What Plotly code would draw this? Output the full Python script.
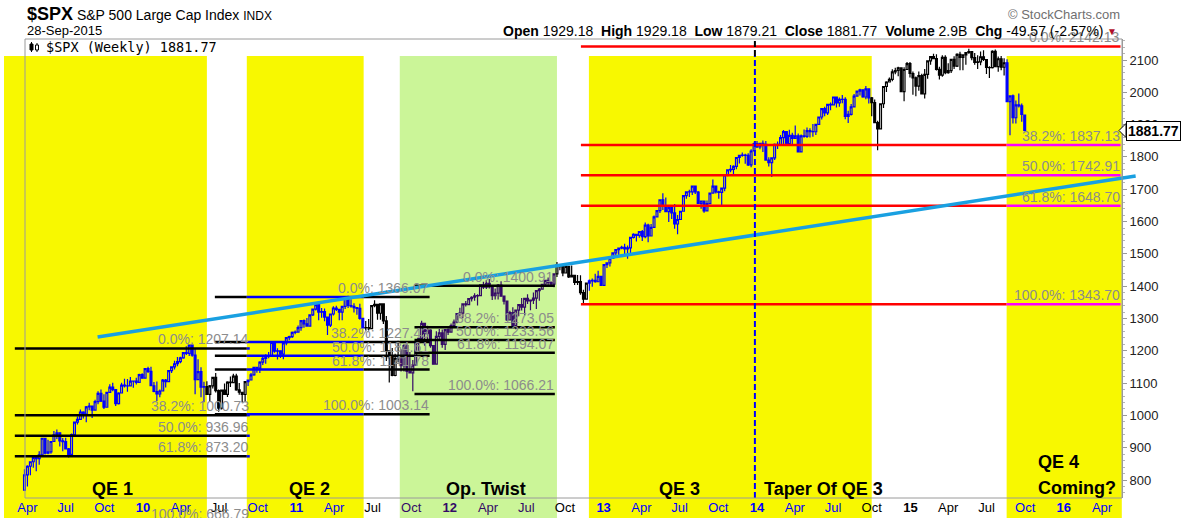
import pandas as pd
import plotly.graph_objects as go

# ---------------- weekly $SPX data (close / high / low) ----------------
close_2009 = [815.94, 842.50, 856.56, 869.60, 866.23, 877.52, 929.23, 882.88, 887.00, 919.14, 940.09, 946.21, 921.23, 918.90, 896.42, 879.13, 940.38, 979.26, 987.48, 1010.48, 1004.09, 1026.13, 1028.93, 1016.40, 1042.73, 1068.30, 1044.38, 1025.21, 1071.49, 1087.68, 1079.60, 1036.19, 1069.30, 1093.48, 1091.38, 1091.49, 1105.98, 1106.41, 1102.47, 1126.48, 1115.10]
high_2009 = [832.98, 845.61, 856.93, 875.63, 871.80, 888.70, 930.17, 922.00, 924.60, 920.02, 951.69, 956.23, 945.83, 930.26, 931.00, 898.72, 943.96, 979.79, 996.68, 1018.00, 1012.60, 1029.43, 1039.47, 1028.00, 1048.18, 1074.77, 1080.15, 1065.59, 1073.00, 1096.56, 1101.36, 1081.38, 1071.30, 1101.00, 1113.69, 1112.38, 1119.13, 1107.84, 1116.21, 1129.23, 1130.38]
low_2009 = [767.00, 779.81, 814.53, 838.22, 826.83, 847.12, 879.21, 878.94, 879.61, 881.46, 919.00, 927.00, 903.78, 888.86, 896.00, 869.32, 875.32, 940.38, 972.00, 987.50, 990.20, 978.51, 1016.20, 991.97, 1016.40, 1034.60, 1041.20, 1019.95, 1025.21, 1071.50, 1075.00, 1029.38, 1033.38, 1069.30, 1086.30, 1073.15, 1091.50, 1085.90, 1095.40, 1102.50, 1114.80]

close_2010 = [1144.98, 1136.03, 1091.76, 1073.87, 1066.19, 1075.51, 1109.17, 1104.49, 1138.70, 1149.99, 1159.90, 1166.59, 1178.10, 1194.37, 1192.13, 1217.28, 1186.69, 1110.88, 1135.68, 1087.69, 1089.41, 1064.88, 1091.60, 1117.51, 1076.76, 1022.58, 1077.96, 1064.88, 1102.66, 1101.60, 1121.64, 1079.25, 1071.69, 1064.59, 1104.51, 1109.55, 1125.59, 1148.67, 1146.24, 1165.15, 1176.19, 1183.08, 1183.26, 1225.85, 1199.21, 1199.73, 1189.40, 1224.71, 1240.40, 1243.91, 1256.77, 1257.64]
high_2010 = [1145.39, 1150.41, 1150.45, 1103.69, 1104.73, 1080.04, 1112.42, 1112.42, 1139.00, 1151.00, 1169.20, 1180.69, 1181.43, 1194.66, 1213.92, 1217.64, 1219.80, 1205.13, 1173.57, 1148.66, 1104.00, 1105.67, 1094.12, 1119.71, 1131.23, 1080.00, 1080.00, 1099.08, 1106.00, 1120.00, 1129.24, 1129.24, 1100.14, 1073.39, 1105.10, 1110.88, 1131.47, 1148.90, 1150.30, 1167.73, 1184.38, 1189.43, 1196.14, 1227.08, 1226.84, 1207.43, 1199.30, 1225.60, 1240.40, 1246.70, 1260.00, 1262.60]
low_2010 = [1115.10, 1131.39, 1090.18, 1071.59, 1044.50, 1056.51, 1075.51, 1086.02, 1104.49, 1131.39, 1141.71, 1152.00, 1161.50, 1175.10, 1186.77, 1183.68, 1181.62, 1065.79, 1110.88, 1055.90, 1040.78, 1064.59, 1042.17, 1083.49, 1070.70, 1010.91, 1018.35, 1063.32, 1056.88, 1088.01, 1101.50, 1076.61, 1064.00, 1039.70, 1040.88, 1091.15, 1108.30, 1122.80, 1131.90, 1131.10, 1155.70, 1159.70, 1177.00, 1181.10, 1194.10, 1173.00, 1177.70, 1173.60, 1216.80, 1232.90, 1239.60, 1251.50]

close_2011 = [1271.50, 1293.24, 1283.35, 1276.34, 1310.87, 1329.15, 1343.01, 1319.88, 1321.15, 1304.28, 1279.21, 1313.80, 1332.41, 1328.17, 1319.68, 1337.38, 1363.61, 1340.20, 1337.77, 1333.27, 1331.10, 1300.16, 1270.98, 1271.50, 1268.45, 1339.67, 1343.80, 1316.14, 1345.02, 1292.28, 1199.38, 1178.81, 1123.53, 1176.80, 1173.97, 1154.23, 1216.01, 1136.43, 1131.42, 1155.46, 1224.58, 1238.25, 1285.09, 1253.23, 1263.85, 1215.65, 1158.67, 1244.28, 1255.19, 1219.66, 1265.33, 1257.60]
high_2011 = [1278.17, 1293.24, 1296.68, 1301.29, 1311.00, 1330.79, 1344.07, 1342.23, 1332.28, 1330.58, 1304.28, 1315.41, 1337.85, 1339.46, 1328.17, 1337.49, 1364.56, 1370.58, 1359.44, 1346.82, 1334.75, 1345.62, 1300.16, 1292.50, 1298.61, 1341.01, 1356.48, 1343.80, 1347.00, 1344.32, 1307.38, 1199.38, 1208.47, 1190.68, 1230.71, 1204.40, 1220.39, 1220.39, 1195.86, 1171.40, 1224.61, 1239.03, 1292.66, 1285.09, 1277.55, 1266.98, 1215.65, 1260.08, 1267.06, 1266.00, 1265.42, 1269.37]
low_2011 = [1257.62, 1262.18, 1271.26, 1275.10, 1276.34, 1307.61, 1324.61, 1294.26, 1302.58, 1291.00, 1249.05, 1273.72, 1309.00, 1322.94, 1294.70, 1294.20, 1329.10, 1332.06, 1333.39, 1318.51, 1311.80, 1296.00, 1268.70, 1262.66, 1262.87, 1268.45, 1334.90, 1295.92, 1295.92, 1282.86, 1168.09, 1101.54, 1121.09, 1121.09, 1163.63, 1136.07, 1136.22, 1114.22, 1131.07, 1074.77, 1155.46, 1191.48, 1234.59, 1215.42, 1226.64, 1209.43, 1158.66, 1158.66, 1231.47, 1209.47, 1202.37, 1248.64]

close_2012 = [1277.81, 1289.09, 1315.38, 1316.33, 1344.90, 1342.64, 1361.23, 1365.74, 1369.63, 1370.87, 1404.17, 1397.11, 1408.47, 1398.08, 1370.26, 1378.53, 1403.36, 1369.10, 1353.39, 1295.22, 1317.82, 1278.04, 1325.66, 1342.84, 1335.02, 1362.16, 1354.68, 1356.78, 1362.66, 1385.97, 1390.99, 1405.87, 1418.16, 1411.13, 1406.58, 1437.92, 1465.77, 1460.15, 1440.67, 1460.93, 1428.59, 1433.19, 1411.94, 1414.20, 1379.85, 1359.88, 1409.15, 1416.18, 1418.07, 1413.58, 1430.15, 1402.43]
high_2012 = [1284.62, 1296.82, 1315.49, 1333.47, 1345.34, 1354.32, 1362.59, 1368.92, 1378.04, 1374.61, 1405.88, 1414.00, 1419.15, 1422.38, 1397.96, 1392.76, 1406.64, 1415.32, 1369.10, 1355.42, 1324.20, 1334.93, 1325.81, 1343.32, 1363.53, 1362.17, 1374.81, 1357.00, 1380.39, 1387.16, 1394.16, 1405.98, 1418.71, 1426.68, 1413.49, 1437.92, 1474.51, 1465.63, 1460.15, 1470.96, 1460.93, 1464.02, 1433.74, 1434.27, 1433.38, 1388.81, 1409.16, 1420.34, 1424.00, 1438.59, 1448.00, 1430.15]
low_2012 = [1258.09, 1274.65, 1284.99, 1306.06, 1300.49, 1337.05, 1340.83, 1352.28, 1354.92, 1340.03, 1370.10, 1391.56, 1391.56, 1392.77, 1357.38, 1358.79, 1358.79, 1367.96, 1343.13, 1291.98, 1295.22, 1277.25, 1266.74, 1306.62, 1324.41, 1309.27, 1345.07, 1325.41, 1345.07, 1329.24, 1354.65, 1390.99, 1397.32, 1398.04, 1397.01, 1396.56, 1428.00, 1449.57, 1430.53, 1440.67, 1425.53, 1428.59, 1403.28, 1403.28, 1373.03, 1343.35, 1359.88, 1385.43, 1398.23, 1410.90, 1413.54, 1401.58]

close_2013 = [1466.47, 1472.05, 1485.98, 1502.96, 1513.17, 1517.93, 1519.79, 1515.60, 1518.20, 1551.18, 1560.70, 1556.89, 1569.19, 1553.28, 1588.85, 1555.25, 1582.24, 1614.42, 1633.70, 1667.47, 1649.60, 1630.74, 1643.38, 1626.73, 1592.43, 1606.28, 1631.89, 1680.19, 1692.09, 1691.65, 1709.67, 1691.42, 1655.83, 1663.50, 1632.97, 1655.17, 1687.99, 1709.91, 1691.75, 1690.50, 1703.20, 1744.50, 1759.77, 1761.64, 1770.61, 1798.18, 1804.76, 1805.81, 1805.09, 1775.32, 1818.32, 1841.40]
high_2013 = [1467.94, 1472.30, 1485.98, 1503.26, 1514.41, 1518.31, 1524.69, 1530.94, 1525.84, 1552.48, 1563.62, 1557.74, 1570.28, 1573.66, 1597.35, 1593.37, 1592.64, 1618.46, 1635.01, 1667.47, 1687.18, 1674.21, 1646.50, 1648.69, 1654.19, 1620.07, 1632.07, 1680.19, 1693.12, 1698.78, 1709.67, 1709.24, 1694.86, 1664.85, 1664.85, 1664.83, 1689.97, 1729.86, 1711.20, 1695.00, 1703.44, 1745.31, 1759.82, 1775.22, 1774.54, 1798.22, 1804.84, 1813.55, 1810.00, 1811.52, 1823.75, 1844.89]
low_2013 = [1402.43, 1456.06, 1461.00, 1485.98, 1496.33, 1495.00, 1514.10, 1497.29, 1485.01, 1501.48, 1547.36, 1538.57, 1549.63, 1539.50, 1548.63, 1536.03, 1555.25, 1581.28, 1614.42, 1626.74, 1635.53, 1630.74, 1598.23, 1608.07, 1577.70, 1560.33, 1606.28, 1631.89, 1670.91, 1676.03, 1681.87, 1684.91, 1654.19, 1639.43, 1627.47, 1633.41, 1655.17, 1688.00, 1687.11, 1670.36, 1646.47, 1694.00, 1740.50, 1752.70, 1746.20, 1761.56, 1780.00, 1800.21, 1779.09, 1772.28, 1767.99, 1820.40]

close_2014 = [1831.37, 1842.37, 1838.70, 1790.29, 1782.59, 1797.02, 1838.63, 1836.25, 1859.45, 1878.04, 1841.13, 1866.52, 1857.62, 1865.09, 1815.69, 1864.85, 1863.40, 1881.14, 1878.48, 1877.86, 1900.53, 1923.57, 1949.44, 1936.16, 1962.87, 1960.96, 1985.44, 1967.57, 1978.22, 1978.34, 1925.15, 1931.59, 1955.06, 1988.40, 2003.37, 2007.71, 1985.54, 2010.40, 1982.85, 1967.90, 1906.13, 1886.76, 1964.58, 2018.05, 2031.92, 2039.82, 2063.50, 2067.56, 2075.37, 2002.33, 2070.65, 2088.77]
high_2014 = [1849.44, 1843.23, 1850.84, 1849.31, 1798.77, 1798.03, 1841.65, 1847.50, 1867.92, 1883.57, 1878.26, 1883.97, 1875.18, 1897.28, 1872.53, 1869.63, 1884.89, 1891.33, 1889.07, 1902.17, 1901.26, 1924.03, 1949.44, 1955.55, 1963.91, 1968.17, 1985.59, 1985.59, 1983.94, 1991.39, 1984.85, 1942.92, 1964.04, 1994.76, 2005.04, 2011.17, 2007.71, 2019.26, 2010.26, 1985.17, 1977.37, 1912.31, 1965.27, 2018.19, 2034.26, 2046.18, 2071.46, 2075.76, 2079.47, 2075.78, 2077.85, 2093.55]
low_2014 = [1827.74, 1823.73, 1815.52, 1790.00, 1770.45, 1737.92, 1790.79, 1824.58, 1836.78, 1834.44, 1839.57, 1841.13, 1839.57, 1858.98, 1814.36, 1815.80, 1859.70, 1858.49, 1859.79, 1862.36, 1868.14, 1900.30, 1915.98, 1925.78, 1930.11, 1944.69, 1959.22, 1952.86, 1955.59, 1965.77, 1916.37, 1904.78, 1928.29, 1955.23, 1988.57, 1990.10, 1983.53, 1978.63, 1965.00, 1926.03, 1906.05, 1820.66, 1886.76, 1951.37, 2001.01, 2030.17, 2034.46, 2055.60, 2049.57, 2002.33, 1972.56, 2069.28]

close_2015 = [2058.20, 2044.81, 2019.42, 2051.82, 1994.99, 2055.47, 2096.99, 2110.30, 2104.50, 2071.26, 2053.40, 2108.10, 2061.02, 2066.96, 2102.06, 2081.18, 2117.69, 2108.29, 2116.10, 2122.73, 2126.06, 2107.39, 2092.83, 2094.11, 2109.99, 2101.49, 2076.78, 2076.62, 2126.64, 2079.65, 2103.84, 2077.57, 2091.54, 1970.89, 1988.87, 1921.22, 1961.05, 1958.08, 1931.34, 1881.77]
high_2015 = [2093.55, 2064.43, 2049.30, 2064.62, 2057.62, 2072.40, 2097.03, 2110.61, 2119.59, 2117.52, 2079.47, 2114.86, 2114.86, 2089.81, 2102.61, 2111.91, 2120.92, 2125.92, 2117.66, 2123.89, 2134.72, 2126.22, 2121.92, 2115.02, 2126.65, 2129.87, 2102.61, 2081.04, 2129.90, 2132.82, 2110.60, 2112.66, 2105.35, 2102.48, 1989.60, 1993.48, 1975.01, 1996.49, 1965.61, 1929.18]
low_2015 = [2046.04, 1992.44, 1988.12, 2004.49, 1994.81, 1980.90, 2041.88, 2085.44, 2103.13, 2067.27, 2039.69, 2048.38, 2055.53, 2057.64, 2059.99, 2072.21, 2078.35, 2067.93, 2067.93, 2085.67, 2119.15, 2099.18, 2085.67, 2072.14, 2083.98, 2097.02, 2056.32, 2044.02, 2073.31, 2077.60, 2063.52, 2067.91, 2052.09, 1970.89, 1867.01, 1903.07, 1903.07, 1953.00, 1908.77, 1879.21]

first_open = 768.54          # open of the first weekly bar
last_open = 1929.18          # open of the current (28-Sep-2015) bar
first_week = "2009-03-25"    # mid-week date of first bar
volume_text = "2.9B"
chart_date = "28-Sep-2015"

# ---------------- shaded programme periods ----------------
band_start = ["2009-02-04", "2010-09-05", "2011-09-04", "2012-11-27", "2015-08-18"]
band_end = ["2010-06-02", "2011-06-10", "2012-09-12", "2014-10-01", "2016-05-18"]
band_kind = ["yellow", "yellow", "green", "yellow", "yellow"]

# ---------------- Fibonacci retracement sets ----------------
fib_pcts = ["0.0%", "38.2%", "50.0%", "61.8%", "100.0%"]
fib1_levels = [1207.14, 1000.73, 936.96, 873.20, 666.79]
fib1_span = ["2009-03-02", "2010-09-12"]
fib2_levels = [1366.07, 1227.43, 1184.61, 1141.78, 1003.14]
fib2_span = ["2010-06-21", "2011-11-14"]
fib3_levels = [1400.91, 1273.05, 1233.56, 1194.07, 1066.21]
fib3_span = ["2011-10-09", "2012-09-07"]
fib4_levels = [2142.13, 1837.13, 1742.91, 1648.70, 1343.70]
fib4_span = ["2012-11-08", "2016-05-15"]

# ---------------- trend line & taper marker ----------------
trend_dates = ["2009-09-15", "2016-06-20"]
trend_values = [1242.6, 1741.0]
taper_date = "2013-12-27"

# ---------------- text labels ----------------
period_labels = ["QE 1", "QE 2", "Op. Twist", "QE 3"]
period_label_dates = ["2009-10-21", "2011-02-02", "2012-03-26", "2013-07-01"]
taper_label = "Taper Of QE 3"
taper_label_date = "2014-01-12"
qe4_labels = ["QE 4", "Coming?"]
qe4_label_date = "2015-10-26"

y_ticks = [800, 900, 1000, 1100, 1200, 1300, 1400, 1500, 1600, 1700, 1800, 1900, 2000, 2100]
month_abbr = {1: "", 4: "Apr", 7: "Jul", 10: "Oct"}

# ---------------- styles ----------------
ARIAL = "Arial, Liberation Sans, Helvetica, sans-serif"
YELLOW = "#F8F800"
GREEN = "#CBF598"
BLUE = "#0000FF"
PURPLE = "#340A67"
BLACK = "#000000"
RED = "#FF0000"
MAGENTA = "#FF00FF"
TREND = "#19A0E1"
LABEL_GRAY = "#8C8C8C"
FRAME = "#9A9A9A"

W, H = 1183, 518
PL, PR, PT, PB = 4, 1140, 39, 498          # plot-area pixel box
Y_AXIS_PX = 1122
FRAME_LEFT_PX = 25
Y_RANGE = [744.3, 2165.0]
REF_DATE = pd.Timestamp("2010-01-01")
REF_PX = 143.0
PX_PER_DAY = 153.5 / 365.25


def px_x(px):
    return (px - PL) / (PR - PL)


def px_y(py):
    return (PB - py) / (PB - PT)


def val_to_paper_y(v):
    return (v - Y_RANGE[0]) / (Y_RANGE[1] - Y_RANGE[0])


x_range = [REF_DATE + pd.Timedelta(days=(PL - REF_PX) / PX_PER_DAY),
           REF_DATE + pd.Timedelta(days=(PR - REF_PX) / PX_PER_DAY)]

# ---------------- assemble series ----------------
close = close_2009 + close_2010 + close_2011 + close_2012 + close_2013 + close_2014 + close_2015
high = high_2009 + high_2010 + high_2011 + high_2012 + high_2013 + high_2014 + high_2015
low = low_2009 + low_2010 + low_2011 + low_2012 + low_2013 + low_2014 + low_2015
opens = [first_open] + close[:-1]
opens[-1] = last_open
dates = list(pd.date_range(first_week, periods=len(close), freq="W-WED"))

bands = [(pd.Timestamp(s), pd.Timestamp(e), k) for s, e, k in zip(band_start, band_end, band_kind)]


def region_of(d):
    for s, e, k in bands:
        if s <= d < e:
            return k
    return "white"


def bar_color(d):
    return {"yellow": BLUE, "green": PURPLE, "white": BLACK}[region_of(d)]


bar_cols = [bar_color(d) for d in dates]

fig = go.Figure()
for col in [BLACK, BLUE, PURPLE]:
    idx = [i for i, c in enumerate(bar_cols) if c == col]
    fig.add_trace(go.Candlestick(
        x=[dates[i] for i in idx],
        open=[opens[i] for i in idx], high=[high[i] for i in idx],
        low=[low[i] for i in idx], close=[close[i] for i in idx],
        increasing=dict(line=dict(color=col, width=1.2), fillcolor="rgba(0,0,0,0)"),
        decreasing=dict(line=dict(color=col, width=1.2), fillcolor=col),
        whiskerwidth=0, hoverinfo="skip", showlegend=False))

shapes = []
# shaded bands (extend from below the axis labels up to near the top)
for s, e, k in bands:
    shapes.append(dict(type="rect", xref="x", yref="paper", x0=s, x1=e,
                       y0=px_y(H), y1=px_y(56), fillcolor=YELLOW if k == "yellow" else GREEN,
                       line=dict(width=0), layer="below"))


def split_span(t0, t1, recolor_bands):
    t0, t1 = pd.Timestamp(t0), pd.Timestamp(t1)
    cuts = {t0, t1}
    for s, e in recolor_bands:
        for b in (s, e):
            if t0 < b < t1:
                cuts.add(b)
    cuts = sorted(cuts)
    out = []
    for a, b in zip(cuts[:-1], cuts[1:]):
        mid = a + (b - a) / 2
        out.append((a, b, any(s <= mid <= e for s, e in recolor_bands)))
    return out


def fib_lines(levels, span, base_col, alt_col, recolor_bands, skip_recolor_first=False):
    for j, lv in enumerate(levels):
        if not (Y_RANGE[0] <= lv <= Y_RANGE[1]):
            continue
        rb = [] if (skip_recolor_first and j == 0) else recolor_bands
        for a, b, inside in split_span(span[0], span[1], rb):
            shapes.append(dict(type="line", xref="x", yref="y", x0=a, x1=b, y0=lv, y1=lv,
                               line=dict(color=alt_col if inside else base_col, width=2.5),
                               layer="above"))


qe2 = (bands[1][0], bands[1][1])
qe4 = (bands[4][0], bands[4][1])
fib_lines(fib1_levels, fib1_span, BLACK, BLUE, [qe2])
fib_lines(fib2_levels, fib2_span, BLACK, BLUE, [qe2])
fib_lines(fib3_levels, fib3_span, BLACK, BLUE, [])
fib_lines(fib4_levels, fib4_span, RED, MAGENTA, [qe4], skip_recolor_first=True)

# trend line
shapes.append(dict(type="line", xref="x", yref="y", x0=trend_dates[0], x1=trend_dates[1],
                   y0=trend_values[0], y1=trend_values[1], line=dict(color=TREND, width=3.5),
                   layer="above"))
# taper marker (black above the band, blue inside it)
shapes.append(dict(type="line", xref="x", yref="paper", x0=taper_date, x1=taper_date,
                   y0=px_y(56), y1=1.0, line=dict(color=BLACK, width=2, dash="6px,3px"), layer="above"))
shapes.append(dict(type="line", xref="x", yref="paper", x0=taper_date, x1=taper_date,
                   y0=0.0, y1=px_y(56), line=dict(color=BLUE, width=2, dash="6px,3px"), layer="above"))

# plot frame
shapes.append(dict(type="rect", xref="paper", yref="paper", x0=px_x(FRAME_LEFT_PX), x1=px_x(Y_AXIS_PX),
                   y0=0, y1=1, line=dict(color=FRAME, width=1), fillcolor="rgba(0,0,0,0)", layer="above"))

# small candlestick icon in the legend box
shapes.append(dict(type="line", xref="paper", yref="paper", x0=px_x(31.5), x1=px_x(31.5),
                   y0=px_y(52), y1=px_y(42), line=dict(color=BLACK, width=1)))
shapes.append(dict(type="rect", xref="paper", yref="paper", x0=px_x(30), x1=px_x(33),
                   y0=px_y(50), y1=px_y(44), line=dict(color=BLACK, width=1), fillcolor=BLACK))
shapes.append(dict(type="line", xref="paper", yref="paper", x0=px_x(37), x1=px_x(37),
                   y0=px_y(52), y1=px_y(43), line=dict(color=BLACK, width=1)))
shapes.append(dict(type="rect", xref="paper", yref="paper", x0=px_x(35.5), x1=px_x(38.5),
                   y0=px_y(50), y1=px_y(45), line=dict(color=BLACK, width=1), fillcolor="white"))

# price pointer at the right axis
last_close = close[-1]
ptr_h = 7 / ((PB - PT) / (Y_RANGE[1] - Y_RANGE[0]))
shapes.append(dict(type="path", xref="paper", yref="y",
                   path=f"M {px_x(1126)},{last_close + ptr_h} L {px_x(1119)},{last_close} L {px_x(1126)},{last_close - ptr_h} Z",
                   fillcolor="white", line=dict(color=BLACK, width=1), layer="above"))

annotations = []


def fib_labels(levels, span):
    for pct, lv in zip(fib_pcts, levels):
        txt = f"{pct}: {lv:.2f}"
        if Y_RANGE[0] <= lv <= Y_RANGE[1]:
            annotations.append(dict(x=span[1], y=lv, xref="x", yref="y", text=txt, showarrow=False,
                                    xanchor="right", yanchor="bottom", borderpad=0, yshift=0,
                                    font=dict(family=ARIAL, size=14, color=LABEL_GRAY)))
        else:
            annotations.append(dict(x=span[1], y=val_to_paper_y(lv), xref="x", yref="paper", text=txt,
                                    showarrow=False, xanchor="right", yanchor="bottom", borderpad=0,
                                    yshift=0, font=dict(family=ARIAL, size=14, color=LABEL_GRAY)))


fib_labels(fib1_levels, fib1_span)
fib_labels(fib2_levels, fib2_span)
fib_labels(fib3_levels, fib3_span)
fib_labels(fib4_levels, fib4_span)

# period labels
for lab, d in zip(period_labels, period_label_dates):
    annotations.append(dict(x=d, y=px_y(489), xref="x", yref="paper", text=f"<b>{lab}</b>",
                            showarrow=False, xanchor="center", yanchor="middle",
                            font=dict(family=ARIAL, size=18, color=BLACK)))
annotations.append(dict(x=taper_label_date, y=px_y(489), xref="x", yref="paper", text=f"<b>{taper_label}</b>",
                        showarrow=False, xanchor="left", yanchor="middle",
                        font=dict(family=ARIAL, size=18, color=BLACK)))
for lab, py in zip(qe4_labels, [462, 488]):
    annotations.append(dict(x=qe4_label_date, y=px_y(py), xref="x", yref="paper", text=f"<b>{lab}</b>",
                            showarrow=False, xanchor="left", yanchor="middle",
                            font=dict(family=ARIAL, size=18, color=BLACK)))

# header
chg = close[-1] - close[-2]
chg_pct = chg / close[-2] * 100
annotations.append(dict(x=px_x(25), y=px_y(14), xref="paper", yref="paper", xanchor="left", yanchor="middle",
                        showarrow=False,
                        text="<b><span style='font-size:18px'>$SPX</span></b> S&P 500 Large Cap Index <span style='font-size:12px'>INDX</span>",
                        font=dict(family=ARIAL, size=14, color=BLACK)))
annotations.append(dict(x=px_x(25), y=px_y(31), xref="paper", yref="paper", xanchor="left", yanchor="middle",
                        showarrow=False, text=chart_date,
                        font=dict(family=ARIAL, size=13, color=BLACK)))
hdr = (f"<b>Open</b> {opens[-1]:.2f}  <b>High</b> {high[-1]:.2f}  <b>Low</b> {low[-1]:.2f}  "
       f"<b>Close</b> {close[-1]:.2f}  <b>Volume</b> {volume_text}  <b>Chg</b> {chg:.2f} ({chg_pct:.2f}%)")
annotations.append(dict(x=px_x(1106), y=px_y(31), xref="paper", yref="paper", xanchor="right", yanchor="middle",
                        showarrow=False, text=hdr, font=dict(family=ARIAL, size=14, color=BLACK)))
annotations.append(dict(x=px_x(1105), y=px_y(32), xref="paper", yref="paper", xanchor="left", yanchor="middle",
                        showarrow=False, text="▼", font=dict(family=ARIAL, size=10, color="#B0102A")))
annotations.append(dict(x=px_x(1122), y=px_y(15), xref="paper", yref="paper", xanchor="right", yanchor="middle",
                        showarrow=False, text="© StockCharts.com", font=dict(family=ARIAL, size=13, color="#707070")))
annotations.append(dict(x=px_x(44), y=px_y(47), xref="paper", yref="paper", xanchor="left", yanchor="middle",
                        showarrow=False, text=f"$SPX (Weekly) {close[-1]:.2f}",
                        font=dict(family="DejaVu Sans Mono, monospace", size=13.5, color=BLACK)))
annotations.append(dict(x=px_x(1126), y=last_close, xref="paper", yref="y", xanchor="left", yanchor="middle",
                        showarrow=False, text=f"<b>{last_close:.2f}</b>", bgcolor="white",
                        bordercolor=BLACK, borderwidth=1, borderpad=1,
                        font=dict(family=ARIAL, size=14, color=BLACK)))

# x tick labels coloured like the bars underneath the shading
tick_dates = list(pd.date_range("2009-04-01", "2016-04-01", freq="QS-JAN"))
tick_text = []
for d in tick_dates:
    col = {"yellow": BLUE, "green": PURPLE, "white": BLACK}[region_of(d)]
    if d.month == 1:
        tick_text.append(f"<span style='color:{col}'><b>{d.strftime('%y')}</b></span>")
    else:
        tick_text.append(f"<span style='color:{col}'>{month_abbr[d.month]}</span>")

fig.update_layout(
    width=W, height=H,
    margin=dict(l=PL, r=W - PR, t=PT, b=H - PB, pad=0),
    paper_bgcolor="white", plot_bgcolor="rgba(0,0,0,0)",
    showlegend=False, boxgap=0.1, hovermode=False,
    xaxis=dict(type="date", range=x_range, rangeslider=dict(visible=False), showgrid=False,
               zeroline=False, showline=False, tickvals=tick_dates, ticktext=tick_text, ticks="",
               tickfont=dict(family=ARIAL, size=13, color=BLACK)),
    yaxis=dict(range=Y_RANGE, anchor="free", position=px_x(Y_AXIS_PX), side="right", showgrid=False,
               zeroline=False, showline=True, linecolor=FRAME, linewidth=1, ticks="outside", ticklen=4,
               tickcolor=FRAME, tickvals=y_ticks, tickfont=dict(family=ARIAL, size=13, color="#222222"),
               minor=dict(ticks="outside", ticklen=2, dtick=20, tickcolor="#B5B5B5")),
    shapes=shapes, annotations=annotations,
)

fig.write_html("out.html", config={"displayModeBar": False},
               post_script="document.body.style.margin='0px';document.body.style.overflow='hidden';")
